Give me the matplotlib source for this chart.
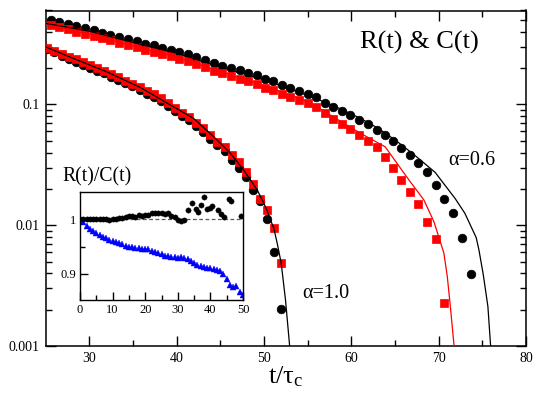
import numpy as np
import matplotlib
matplotlib.use('Agg')
import matplotlib.pyplot as plt
from matplotlib.ticker import FixedLocator, LogLocator, NullFormatter, MultipleLocator

plt.rcParams['font.family'] = ['Liberation Serif', 'DejaVu Serif']
plt.rcParams['mathtext.default'] = 'regular'

# ---------------- data: alpha = 0.6 ----------------
t06 = [25.63, 26.58, 27.53, 28.49, 29.56, 30.51, 31.47, 32.42, 33.45, 34.40,
       35.48, 36.43, 37.38, 38.34, 39.38, 40.33, 41.28, 42.24, 43.30, 44.26,
       45.22, 46.23, 47.22, 48.17, 49.17, 50.12, 51.09, 52.03, 53.04, 54.07,
       55.02, 55.99, 56.96, 57.91, 58.92, 59.87, 60.89, 61.94, 62.89, 63.84,
       64.81, 65.72, 66.67, 67.67, 68.70, 69.65, 70.65, 71.63, 72.63, 73.66]
C06 = [0.504, 0.482, 0.467, 0.446, 0.430, 0.411, 0.394, 0.379, 0.362, 0.347,
       0.334, 0.319, 0.309, 0.296, 0.283, 0.272, 0.261, 0.247, 0.235, 0.220,
       0.210, 0.1995, 0.192, 0.183, 0.174, 0.164, 0.155, 0.146, 0.138, 0.1295,
       0.1216, 0.1143, 0.1029, 0.0950, 0.0884, 0.0813, 0.0742, 0.0684, 0.0613, 0.0555,
       0.0500, 0.0438, 0.0381, 0.0327, 0.0274, 0.0215, 0.0166, 0.01257, 0.0079, 0.00394]
R06 = [0.454, 0.434, 0.420, 0.401, 0.385, 0.369, 0.353, 0.339, 0.324, 0.309,
       0.297, 0.284, 0.274, 0.262, 0.250, 0.240, 0.229, 0.217, 0.206, 0.191,
       0.181, 0.171, 0.164, 0.155, 0.147, 0.138, 0.131, 0.122, 0.115, 0.109,
       0.102, 0.0944, 0.0843, 0.0756, 0.0687, 0.0621, 0.0557, 0.0497, 0.0441, 0.0365,
       0.0296, 0.0237, 0.0187, 0.0150, 0.0106, 0.00766, 0.00229]

# theory curves alpha = 0.6
tC06_line = [25.0, 30.0, 35.0, 40.0, 45.0, 50.0, 55.0, 58.0, 61.0, 63.0, 65.15, 67.24,
             69.6, 71.9, 73.0, 74.3, 74.61, 75.1, 75.64, 75.95, 76.05]
C06_line = [0.47, 0.405, 0.327, 0.266, 0.205, 0.160, 0.119, 0.0975, 0.077, 0.064, 0.050,
            0.0381, 0.0274, 0.0166, 0.01257, 0.0079, 0.00626, 0.00394, 0.00212, 0.00100, 0.0008]
tR06_line = [25.0, 30.0, 35.0, 40.0, 45.0, 50.0, 55.0, 58.0, 61.0, 63.88, 66.60, 68.31,
             69.46, 70.60, 70.99, 71.37, 71.75, 71.85]
R06_line = [0.462, 0.382, 0.305, 0.247, 0.187, 0.143, 0.106, 0.0785, 0.058, 0.0446, 0.0237,
            0.0162, 0.0107, 0.00588, 0.00376, 0.00202, 0.00103, 0.0008]

# ---------------- data: alpha = 1.0 ----------------
t10 = [25.22, 26.03, 26.84, 27.65, 28.46, 29.28, 30.09, 30.90, 31.71, 32.52,
       33.33, 34.14, 34.95, 35.76, 36.57, 37.39, 38.20, 39.01, 39.82, 40.63,
       41.44, 42.25, 43.06, 43.87, 44.68, 45.50, 46.31, 47.12, 47.93, 48.74,
       49.55, 50.36, 51.17, 51.98]
C10 = [0.290, 0.270, 0.254, 0.240, 0.226, 0.213, 0.202, 0.191, 0.181, 0.170,
       0.160, 0.150, 0.141, 0.132, 0.123, 0.115, 0.106, 0.0965, 0.0878, 0.0808,
       0.0737, 0.0663, 0.0594, 0.0522, 0.0458, 0.0410, 0.0350, 0.0300, 0.0252, 0.0196,
       0.0158, 0.0112, 0.00605, 0.00202]
R10 = [0.2946, 0.2783, 0.2634, 0.2492, 0.2358, 0.2232, 0.2116, 0.2007, 0.1899, 0.1790,
       0.1681, 0.1579, 0.1483, 0.1393, 0.1300, 0.1216, 0.1121, 0.1019, 0.0927, 0.0855,
       0.0781, 0.0705, 0.0633, 0.0558, 0.0491, 0.0444, 0.0381, 0.0335, 0.0276, 0.0219,
       0.0165, 0.0134, 0.00945, 0.00491]
t10_line = [25.0, 28.22, 32.04, 35.86, 39.67, 41.96, 44.26, 46.17, 47.69, 49.23, 49.91,
            50.37, 50.75, 51.13, 51.52, 51.98, 52.47, 52.93, 53.02]
C10_line = [0.30, 0.240, 0.1859, 0.1382, 0.0955, 0.0766, 0.0540, 0.0394, 0.0286, 0.0196,
            0.01567, 0.0132, 0.01107, 0.00945, 0.0071, 0.00485, 0.00241, 0.00103, 0.0008]

# ---------------- inset: R(t)/C(t) ----------------
ti_c = list(range(0, 34)) + [34.5, 35.6, 36.3, 37.2, 38.0, 39.0, 39.8, 40.4, 42.3, 43.2,
                             44.3, 45.6, 46.2, 49.4]
ri_c = [1.000, 1.001, 1.001, 1.001, 1.001, 1.001, 1.001, 1.000, 1.000, 0.999,
        1.000, 1.000, 1.002, 1.003, 1.004, 1.006, 1.006, 1.005, 1.007, 1.006,
        1.008, 1.007, 1.012, 1.012, 1.011, 1.012, 1.009, 1.011, 1.006, 1.004,
        0.999, 0.996, 0.998, 1.017,
        1.030, 1.018, 1.013, 1.026, 1.040, 1.018, 1.020, 1.024, 1.017, 1.010,
        1.004, 1.038, 1.034, 1.006]
ti_b = list(range(0, 51))
ri_b = [1.000, 0.995, 0.988, 0.983, 0.979, 0.975, 0.971, 0.968, 0.965, 0.962,
        0.960, 0.958, 0.956, 0.954, 0.951, 0.950, 0.949, 0.948, 0.947, 0.946,
        0.946, 0.945, 0.942, 0.940, 0.938, 0.937, 0.933, 0.932, 0.930, 0.930,
        0.929, 0.930, 0.929, 0.928, 0.923, 0.919, 0.916, 0.914, 0.912, 0.911,
        0.910, 0.909, 0.907, 0.905, 0.899, 0.890, 0.880, 0.876, 0.877, 0.867,
        0.862]

W, H = 533, 393
fig = plt.figure(figsize=(W / 100, H / 100), dpi=100)
ax = fig.add_axes([45.5 / W, 1 - 346 / H, (526 - 45.5) / W, (346 - 10.5) / H])

ms = 6.2
ax.plot(t06, C06, 'o', color='black', ms=ms, mew=0.5, zorder=2)
ax.plot(t06[:len(R06)], R06, 's', color='red', ms=ms - 0.3, mew=0.5, zorder=2)
ax.plot(t10, C10, 'o', color='black', ms=ms, mew=0.5, zorder=2)
ax.plot(t10, R10, 's', color='red', ms=ms - 0.3, mew=0.5, zorder=3)
ax.plot(tR06_line, R06_line, '-', color='red', lw=0.9, zorder=4)
ax.plot(tC06_line, C06_line, '-', color='black', lw=0.9, zorder=4)
ax.plot(t10_line, C10_line, '-', color='black', lw=0.9, zorder=4)

ax.set_yscale('log')
ax.set_xlim(25, 80)
ax.set_ylim(0.001, 0.6)
ax.xaxis.set_major_locator(FixedLocator([30, 40, 50, 60, 70, 80]))
ax.xaxis.set_minor_locator(FixedLocator([35, 45, 55, 65, 75]))
ax.set_yticks([0.001, 0.01, 0.1])
ax.set_yticklabels(['0.001', '0.01', '0.1'])
ax.yaxis.set_minor_locator(LogLocator(base=10, subs=range(2, 10)))
ax.yaxis.set_minor_formatter(NullFormatter())
ax.tick_params(which='both', direction='in', top=True, right=True, width=1.0,
               labelsize=10, pad=4)
ax.tick_params(which='major', length=7)
ax.tick_params(which='minor', length=4)
for s in ax.spines.values():
    s.set_linewidth(1.1)

ax.set_xlabel('t/τ$_{c}$', fontsize=19, labelpad=0)

fig.text(419 / W, 1 - 48.5 / H, 'R(t) & C(t)', fontsize=19, ha='center', va='baseline')
fig.text(472 / W, 1 - 165 / H, 'α=0.6', fontsize=14.5, ha='center', va='baseline')
fig.text(326 / W, 1 - 298 / H, 'α=1.0', fontsize=14.5, ha='center', va='baseline')
fig.text(97 / W, 1 - 181.5 / H, 'R(t)/C(t)', fontsize=14.2, ha='center', va='baseline')

# inset
axi = fig.add_axes([80 / W, 1 - 300 / H, 163 / W, 108 / H])
axi.set_facecolor('white')
axi.axhline(1.0, color='0.35', lw=0.9, ls=(0, (3, 2)), zorder=1)
axi.plot(ti_c, ri_c, 'o', color='black', ms=3.8, mew=0.3, zorder=3)
axi.plot(ti_b, ri_b, '^', color='blue', ms=3.8, mew=0.3, zorder=2)
axi.set_xlim(0, 50)
axi.set_ylim(0.852, 1.05)
axi.xaxis.set_major_locator(MultipleLocator(10))
axi.xaxis.set_minor_locator(MultipleLocator(5))
axi.set_yticks([0.9, 1.0])
axi.set_yticklabels(['0.9', '1'])
axi.yaxis.set_minor_locator(FixedLocator([0.85, 0.95]))
axi.tick_params(which='both', direction='in', labelsize=9, width=1.0, pad=3)
axi.tick_params(which='major', length=6)
axi.tick_params(which='minor', length=3.5)
for s in axi.spines.values():
    s.set_linewidth(1.0)

fig.savefig('out.png', dpi=100)
